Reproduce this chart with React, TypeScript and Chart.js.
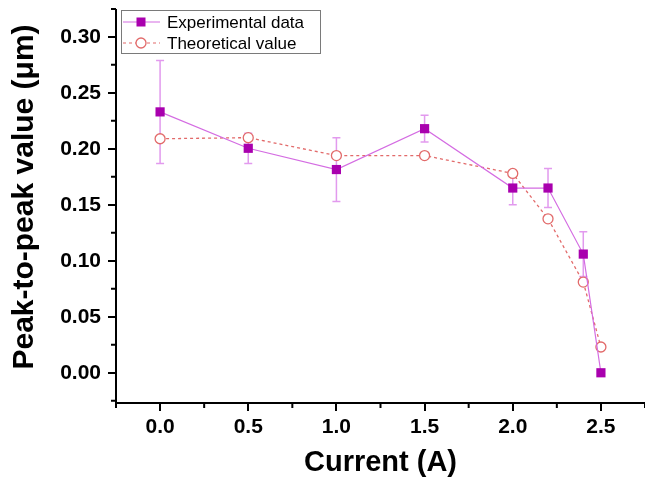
import { useEffect, useRef } from "react";
import { Chart, registerables } from "chart.js";

Chart.register(...registerables);

const currents = [0, 0.5, 1.0, 1.5, 2.0, 2.2, 2.4, 2.5];
const experimental = [0.233, 0.2005, 0.1815, 0.218, 0.165, 0.165, 0.106, 0.0];
const experimentalErr = [0.046, 0.0135, 0.0285, 0.012, 0.015, 0.0175, 0.02, 0];
const theoretical = [0.209, 0.21, 0.194, 0.194, 0.178, 0.1375, 0.081, 0.023];

const xTicks = [0, 0.5, 1.0, 1.5, 2.0, 2.5];
const xMinorTicks = [-0.25, 0.25, 0.75, 1.25, 1.75, 2.25, 2.75];
const yTicks = [0, 0.05, 0.1, 0.15, 0.2, 0.25, 0.3];
const yMinorTicks = [-0.025, 0.025, 0.075, 0.125, 0.175, 0.225, 0.275, 0.325];

const seriesNames = ["Experimental data", "Theoretical value"];
const xTitle = "Current (A)";
const yTitle = "Peak-to-peak value (μm)";

const FONT = '"Liberation Sans", Arial, Helvetica, sans-serif';
const EXP_MARK = "#A900AE";
const EXP_LINE = "#D46CE2";
const EXP_ERR = "#E29AEE";
const THEO = "#E26A6A";

const overlayPlugin = {
  id: "overlay",
  beforeDatasetsDraw(chart: any) {
    const ctx = chart.ctx;
    const xs = chart.scales.x;
    const ys = chart.scales.y;
    ctx.save();
    ctx.strokeStyle = EXP_ERR;
    ctx.lineWidth = 1.5;
    currents.forEach((c, i) => {
      const e = experimentalErr[i];
      if (!e) return;
      const px = xs.getPixelForValue(c);
      const top = ys.getPixelForValue(experimental[i] + e);
      const bot = ys.getPixelForValue(experimental[i] - e);
      ctx.beginPath();
      ctx.moveTo(px, top);
      ctx.lineTo(px, bot);
      ctx.moveTo(px - 4, top);
      ctx.lineTo(px + 4, top);
      ctx.moveTo(px - 4, bot);
      ctx.lineTo(px + 4, bot);
      ctx.stroke();
    });
    ctx.restore();
  },
  afterDraw(chart: any) {
    const ctx = chart.ctx;
    const xs = chart.scales.x;
    const ys = chart.scales.y;
    const area = chart.chartArea;
    ctx.save();
    // minor ticks
    ctx.strokeStyle = "#000";
    ctx.lineWidth = 2;
    ctx.beginPath();
    xMinorTicks.forEach((v) => {
      const px = xs.getPixelForValue(v);
      ctx.moveTo(px, area.bottom);
      ctx.lineTo(px, area.bottom + 5);
    });
    yMinorTicks.forEach((v) => {
      const py = ys.getPixelForValue(v);
      ctx.moveTo(area.left, py);
      ctx.lineTo(area.left - 5, py);
    });
    ctx.stroke();

    // axis titles
    ctx.fillStyle = "#000";
    ctx.font = `bold 29px ${FONT}`;
    ctx.textAlign = "center";
    ctx.textBaseline = "alphabetic";
    ctx.fillText(xTitle, (area.left + area.right) / 2, 471);
    ctx.save();
    ctx.translate(33, 197);
    ctx.rotate(-Math.PI / 2);
    ctx.font = `bold 30px ${FONT}`;
    ctx.fillText(yTitle, 0, 0);
    ctx.restore();

    // legend
    const lx = 121, ly = 10, lw = 199, lh = 43;
    ctx.fillStyle = "#fff";
    ctx.fillRect(lx, ly, lw, lh);
    ctx.strokeStyle = "#7a7a7a";
    ctx.lineWidth = 1;
    ctx.strokeRect(lx + 0.5, ly + 0.5, lw, lh);
    const r1 = 22, r2 = 43;
    ctx.strokeStyle = EXP_LINE;
    ctx.lineWidth = 1.2;
    ctx.beginPath();
    ctx.moveTo(123, r1);
    ctx.lineTo(160, r1);
    ctx.stroke();
    ctx.fillStyle = EXP_MARK;
    ctx.fillRect(141 - 4.5, r1 - 4.5, 9, 9);
    ctx.strokeStyle = THEO;
    ctx.setLineDash([3, 3]);
    ctx.beginPath();
    ctx.moveTo(123, r2);
    ctx.lineTo(160, r2);
    ctx.stroke();
    ctx.setLineDash([]);
    ctx.fillStyle = "#fff";
    ctx.beginPath();
    ctx.arc(141, r2, 5, 0, Math.PI * 2);
    ctx.fill();
    ctx.lineWidth = 1.3;
    ctx.stroke();
    ctx.fillStyle = "#000";
    ctx.font = `17px ${FONT}`;
    ctx.textAlign = "left";
    ctx.textBaseline = "middle";
    ctx.fillText(seriesNames[0], 167, r1 + 1);
    ctx.fillText(seriesNames[1], 167, r2 + 1);
    ctx.restore();
  },
};

export default function App() {
  const ref = useRef<HTMLCanvasElement | null>(null);
  useEffect(() => {
    if (!ref.current) return;
    const chart = new Chart(ref.current, {
      type: "line",
      data: {
        datasets: [
          {
            label: seriesNames[0],
            data: currents.map((c, i) => ({ x: c, y: experimental[i] })),
            borderColor: EXP_LINE,
            borderWidth: 1.2,
            pointStyle: "rect",
            pointRadius: 6.5,
            pointBackgroundColor: EXP_MARK,
            pointBorderColor: EXP_MARK,
            pointBorderWidth: 0,
            fill: false,
            tension: 0,
          },
          {
            label: seriesNames[1],
            data: currents.map((c, i) => ({ x: c, y: theoretical[i] })),
            borderColor: THEO,
            borderWidth: 1.3,
            borderDash: [3, 3],
            pointStyle: "circle",
            pointRadius: 5,
            pointBackgroundColor: "#fff",
            pointBorderColor: THEO,
            pointBorderWidth: 1.3,
            fill: false,
            tension: 0,
          },
        ],
      },
      options: {
        responsive: false,
        animation: false,
        events: [],
        layout: { padding: { top: 10, right: 0, left: 0, bottom: 0 }, autoPadding: false },
        plugins: {
          legend: { display: false },
          tooltip: { enabled: false },
          title: { display: false },
        },
        scales: {
          x: {
            type: "linear",
            min: -0.25,
            max: 2.75,
            afterBuildTicks: (s: any) => {
              s.ticks = xTicks.map((v) => ({ value: v }));
            },
            afterFit: (s: any) => {
              s.height = 78;
              s.paddingLeft = 0;
              s.paddingRight = 0;
            },
            ticks: {
              callback: (v: any) => Number(v).toFixed(1),
              font: { family: FONT, size: 21, weight: "bold" },
              color: "#000",
              padding: 4,
              maxRotation: 0,
            },
            grid: {
              display: true,
              drawOnChartArea: false,
              drawTicks: true,
              tickLength: 8,
              color: "#000",
              lineWidth: 2,
            },
            border: { display: true, color: "#000", width: 2 },
          },
          y: {
            type: "linear",
            min: -0.027,
            max: 0.324,
            afterBuildTicks: (s: any) => {
              s.ticks = yTicks.map((v) => ({ value: v }));
            },
            afterFit: (s: any) => {
              s.width = 116;
              s.paddingTop = 0;
              s.paddingBottom = 0;
            },
            ticks: {
              callback: (v: any) => Number(v).toFixed(2),
              font: { family: FONT, size: 21, weight: "bold" },
              color: "#000",
              padding: 7,
            },
            grid: {
              display: true,
              drawOnChartArea: false,
              drawTicks: true,
              tickLength: 8,
              color: "#000",
              lineWidth: 2,
            },
            border: { display: true, color: "#000", width: 2 },
          },
        },
      },
      plugins: [overlayPlugin],
    });
    return () => chart.destroy();
  }, []);
  return (
    <div style={{ position: "fixed", left: 0, top: 0, width: 645, height: 481, background: "#fff" }}>
      <canvas ref={ref} width={645} height={481} style={{ display: "block" }} />
    </div>
  );
}
